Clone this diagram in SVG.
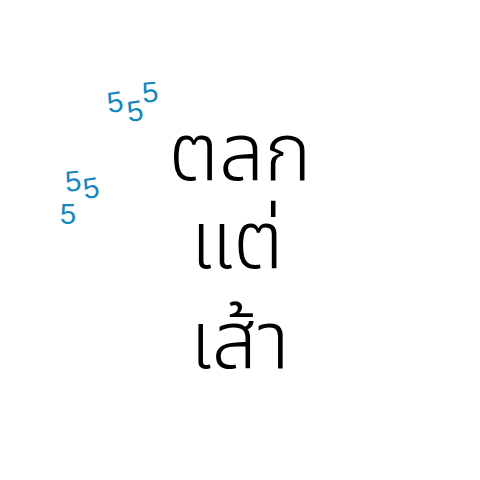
<svg xmlns="http://www.w3.org/2000/svg" width="480" height="480" viewBox="0 0 480 480">
<style>
.th{font-family:"Noto Sans Thai","Noto Sans","DejaVu Sans",sans-serif;font-size:80px;font-weight:300;fill:#000;text-anchor:middle}
.d{font-family:"Liberation Sans","DejaVu Sans",sans-serif;font-size:29px;fill:#1787bd;text-anchor:middle}
</style>
<rect width="480" height="480" fill="#fff"/>
<g id="laugh1">
<text class="d" x="115" y="112" transform="rotate(-8 115 102)">5</text>
<text class="d" x="135" y="121" transform="rotate(-8 135 110)">5</text>
<text class="d" x="150" y="102" transform="rotate(-5 150 90)">5</text>
</g>
<g id="laugh2">
<text class="d" x="73" y="191" transform="rotate(-5 73 180)">5</text>
<text class="d" x="91" y="198" transform="rotate(-8 91 187)">5</text>
<text class="d" x="68" y="224">5</text>
</g>
<g id="words">
<text class="th" x="240" y="180">ตลก</text>
<text class="th" x="237" y="268">แต่</text>
<text class="th" x="240" y="368">เส้า</text>
</g>
</svg>
